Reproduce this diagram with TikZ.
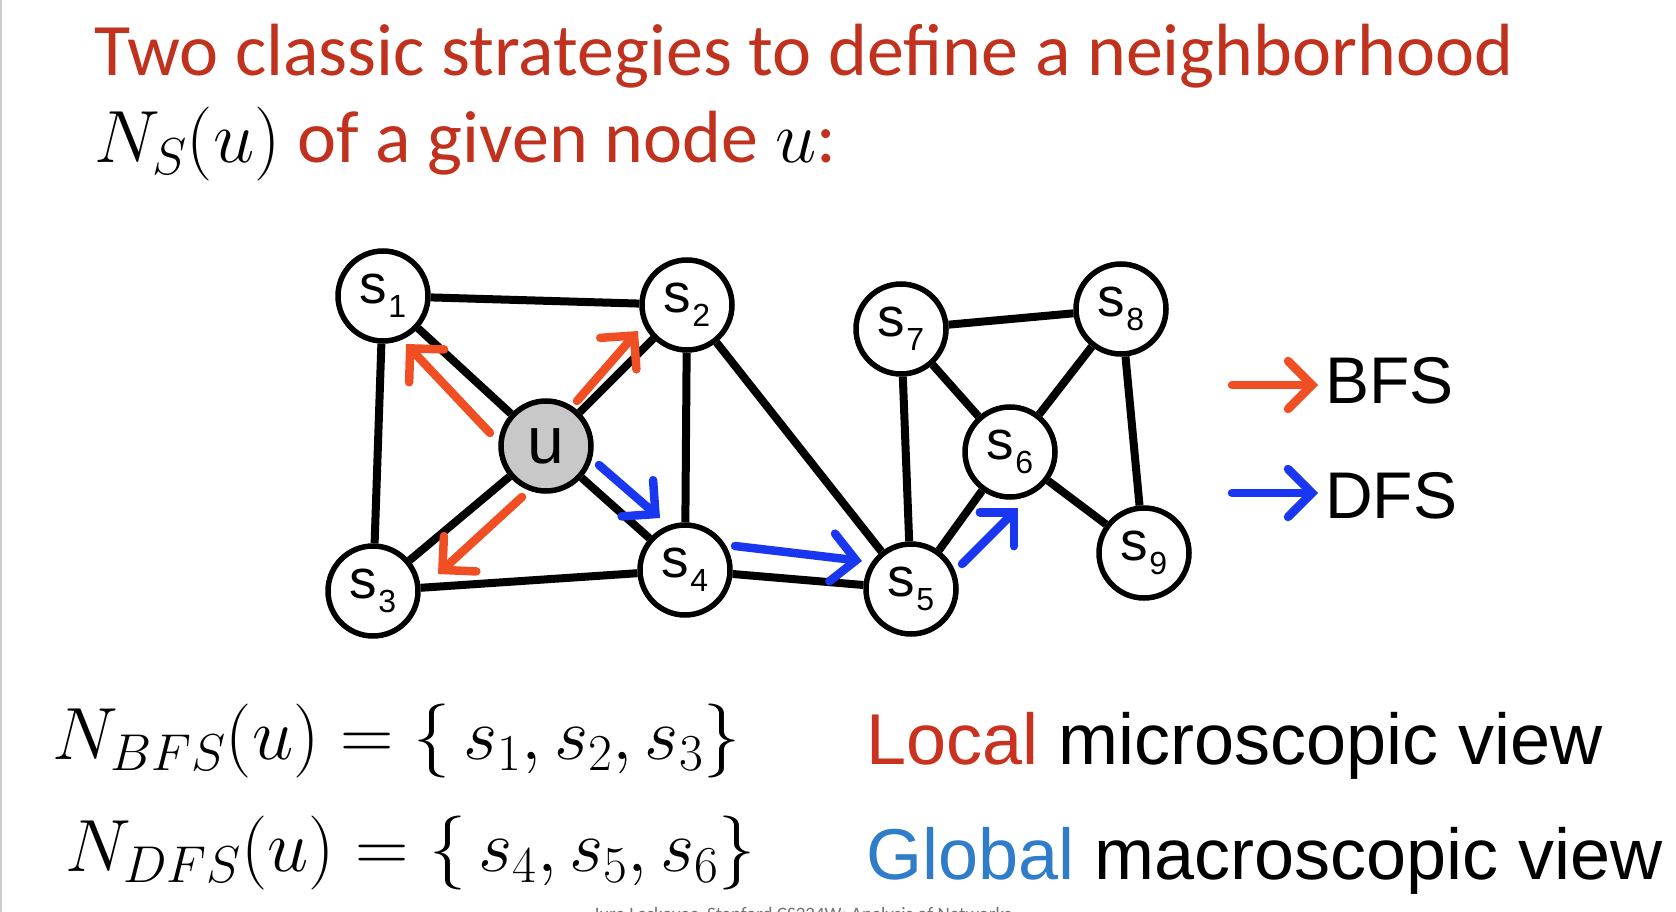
\RequirePackage{fix-cm}
\documentclass[tikz,border=0pt]{standalone}
\usepackage{fontspec}
\usetikzlibrary{arrows.meta}
\newfontfamily\calfont{Carlito}
\newfontfamily\helvfont{Liberation Sans}
\definecolor{titlered}{RGB}{192,50,30}
\definecolor{bfsc}{RGB}{240,78,35}
\definecolor{dfsc}{RGB}{25,55,240}
\definecolor{localred}{RGB}{200,50,30}
\definecolor{globalblue}{RGB}{47,124,201}
\definecolor{ugray}{RGB}{200,200,200}
\newcommand{\slab}[1]{{\helvfont\fontsize{55}{55}\selectfont s\kern1pt\raisebox{-14pt}{\smash{\fontsize{32}{32}\selectfont #1}}}}
\begin{document}
\begin{tikzpicture}[x=1pt,y=-1pt,
  gnode/.style={circle,draw=black,line width=5.5pt,fill=white,minimum size=90pt,inner sep=0pt},
  edge/.style={line width=8pt,black},
  trav/.style={line width=8.5pt,line cap=round,-{Straight Barb[length=24pt,width=48pt,line cap=round]}},
  bfsarrow/.style={trav,draw=bfsc},
  dfsarrow/.style={trav,draw=dfsc},
  titletext/.style={anchor=base west,inner sep=0pt,font=\calfont\fontsize{74}{88}\selectfont,text=titlered},
  viewtext/.style={anchor=base west,inner sep=0pt,font=\helvfont\fontsize{72}{86}\selectfont},
  formula/.style={anchor=base west,inner sep=0pt,font=\fontsize{74}{89}\selectfont},
  legendtext/.style={anchor=base west,inner sep=0pt,font=\helvfont\fontsize{66}{80}\selectfont}
]
\useasboundingbox (0,0) rectangle (1676,912);
\fill[white] (0,0) rectangle (1676,912);
\draw[black!20,line width=1.5pt] (1,0) -- (1,912);

% title
\node[titletext] (t1) at (94,76) {Two classic strategies to define a neighborhood};
\node[titletext] (t2) at (94,163) {\textcolor{black}{$N_S(u)$} of a given node \textcolor{black}{$u$}:};

% graph nodes
\node[gnode] (s1) at (383,296) {\slab{1}};
\node[gnode] (s2) at (687,305) {\slab{2}};
\node[gnode,fill=ugray] (u) at (546,446) {\helvfont\fontsize{66}{66}\selectfont u};
\node[gnode] (s3) at (373,591) {\slab{3}};
\node[gnode] (s4) at (685,570) {\slab{4}};
\node[gnode] (s5) at (911,589) {\slab{5}};
\node[gnode] (s6) at (1010,452) {\slab{6}};
\node[gnode] (s7) at (901,329) {\slab{7}};
\node[gnode] (s8) at (1121,309) {\slab{8}};
\node[gnode] (s9) at (1144,553) {\slab{9}};

% edges
\draw[edge] (s1) -- (s2);
\draw[edge] (s1) -- (u);
\draw[edge] (s1) -- (s3);
\draw[edge] (s2) -- (u);
\draw[edge] (s2) -- (s4);
\draw[edge] (s2) -- (s5);
\draw[edge] (u) -- (s3);
\draw[edge] (u) -- (s4);
\draw[edge] (s3) -- (s4);
\draw[edge] (s4) -- (s5);
\draw[edge] (s5) -- (s7);
\draw[edge] (s5) -- (s6);
\draw[edge] (s7) -- (s6);
\draw[edge] (s7) -- (s8);
\draw[edge] (s6) -- (s8);
\draw[edge] (s6) -- (s9);
\draw[edge] (s8) -- (s9);

% traversal arrows
\coordinate (b1a) at (490,433); \coordinate (b1b) at (406,344);
\coordinate (b2a) at (577,401); \coordinate (b2b) at (638,331);
\coordinate (b3a) at (522,497); \coordinate (b3b) at (438,574);
\coordinate (d1a) at (599,465); \coordinate (d1b) at (660,518);
\coordinate (d2a) at (735,546); \coordinate (d2b) at (862,561);
\coordinate (d3a) at (962,564); \coordinate (d3b) at (1018,508);
\draw[bfsarrow] (b1a) -- (b1b);
\draw[bfsarrow] (b2a) -- (b2b);
\draw[bfsarrow] (b3a) -- (b3b);
\draw[dfsarrow] (d1a) -- (d1b);
\draw[dfsarrow] (d2a) -- (d2b);
\draw[dfsarrow] (d3a) -- (d3b);

% legend
\coordinate (lb1) at (1232,385); \coordinate (lb2) at (1318,385);
\coordinate (ld1) at (1232,493); \coordinate (ld2) at (1318,493);
\draw[bfsarrow] (lb1) -- (lb2);
\draw[dfsarrow] (ld1) -- (ld2);
\node[legendtext] (bfs) at (1325,403) {BFS};
\node[legendtext] (dfs) at (1325,518) {DFS};

% formulas
\node[formula] (f1) at (52,759) {$N_{BFS}(u) = \{\, s_1, s_2, s_3\}$};
\node[formula] (f2) at (65,871) {$N_{DFS}(u) = \{\, s_4, s_5, s_6\}$};

% views
\node[viewtext] (v1) at (866,764) {\textcolor{localred}{Local} microscopic view};
\node[viewtext] (v2) at (866,879) {\textcolor{globalblue}{Global} macroscopic view};

% footer (cut off as in the slide)
\node[anchor=base west,inner sep=0pt,font=\calfont\fontsize{19}{22}\selectfont,text=black!55] (foot) at (593,920) {Jure Leskovec, Stanford CS224W: Analysis of Networks};
\end{tikzpicture}
\end{document}
